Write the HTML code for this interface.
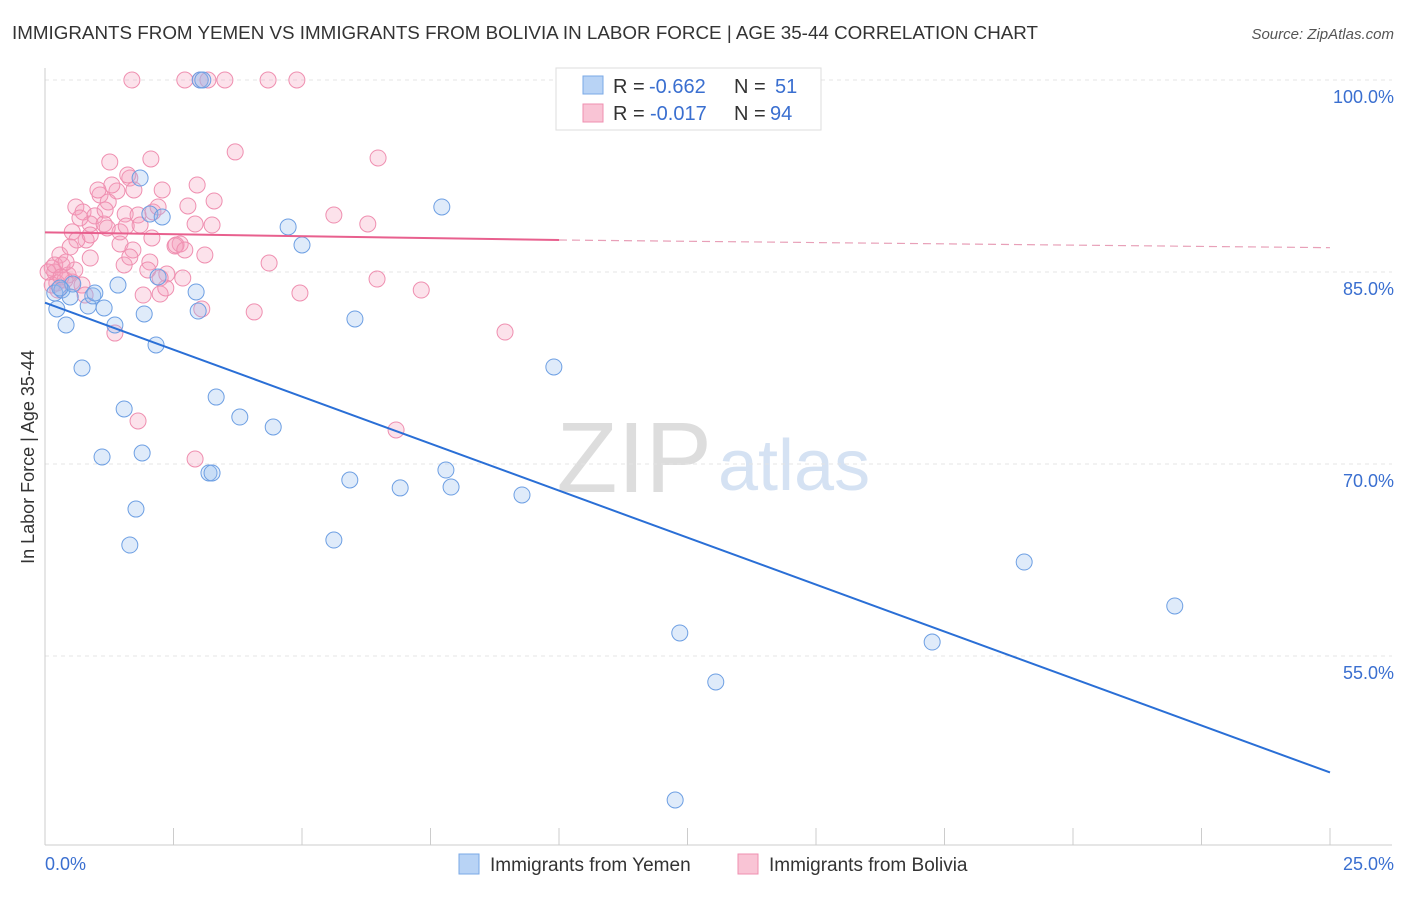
<!DOCTYPE html>
<html><head><meta charset="utf-8"><style>
body{margin:0;background:#fff;font-family:"Liberation Sans",sans-serif;}
svg text{font-family:"Liberation Sans",sans-serif;}
</style></head><body>
<svg width="1406" height="892" id="chart">
<text x="12" y="39" font-size="18" fill="#333" textLength="1026" lengthAdjust="spacingAndGlyphs">IMMIGRANTS FROM YEMEN VS IMMIGRANTS FROM BOLIVIA IN LABOR FORCE | AGE 35-44 CORRELATION CHART</text>
<text x="1394" y="39" font-size="15" fill="#555" font-style="italic" text-anchor="end">Source: ZipAtlas.com</text>
<text x="712" y="492" font-size="100" fill="#ddd" text-anchor="end" font-family="Liberation Serif">ZIP</text>
<text x="718" y="490" font-size="72" fill="#d5e2f3">atlas</text>
<g id="grid"></g><g id="axes"></g><g id="pts"></g><g id="trends"></g>
<text transform="translate(34,457) rotate(-90)" font-size="18" fill="#333" text-anchor="middle">In Labor Force | Age 35-44</text>
<text x="45" y="870" font-size="18" fill="#3a6fd0">0.0%</text>
<text x="1394" y="870" font-size="18" fill="#3a6fd0" text-anchor="end">25.0%</text>
<g>
<rect x="556" y="68" width="265" height="62" fill="#fff" stroke="#ddd"/>
<rect x="583" y="76" width="20" height="18" fill="#b8d3f5" stroke="#7aa8e6"/>
<rect x="583" y="104" width="20" height="18" fill="#f9c4d5" stroke="#ef8fb0"/>
<text x="613" y="93" font-size="20" fill="#333">R =</text>
<text x="649" y="93" font-size="20" fill="#3a6fd0">-0.662</text>
<text x="734" y="93" font-size="20" fill="#333">N =</text>
<text x="775" y="93" font-size="20" fill="#3a6fd0">51</text>
<text x="613" y="120" font-size="20" fill="#333">R =</text>
<text x="650" y="120" font-size="20" fill="#3a6fd0">-0.017</text>
<text x="734" y="120" font-size="20" fill="#333">N =</text>
<text x="770" y="120" font-size="20" fill="#3a6fd0">94</text>
</g>
<g>
<rect x="459" y="854" width="20" height="20" fill="#b8d3f5" stroke="#7aa8e6"/>
<text x="490" y="871" font-size="19" fill="#333">Immigrants from Yemen</text>
<rect x="738" y="854" width="20" height="20" fill="#f9c4d5" stroke="#ef8fb0"/>
<text x="769" y="871" font-size="19" fill="#333">Immigrants from Bolivia</text>
</g>
</svg>
<script>
const yTicks=[100,85,70,55];
const yTickLabels=["100.0%","85.0%","70.0%","55.0%"];
const xTicks=[0,2.5,5,7.5,10,12.5,15,17.5,20,22.5,25];
const yemenPx=[[55,293],[57,309],[62,290],[66,325],[70,297],[73,284],[82,368],[88,306],[93,296],[95,293],[102,457],[104,308],[115,325],[118,285],[124,409],[130,545],[136,509],[140,178],[142,453],[144,314],[150,214],[156,345],[158,277],[162,217],[196,292],[198,311],[200,80],[209,473],[212,473],[216,397],[240,417],[273,427],[288,227],[302,245],[334,540],[350,480],[355,319],[400,488],[442,207],[446,470],[451,487],[522,495],[554,367],[675,800],[680,633],[716,682],[932,642],[1024,562],[1175,606],[203,80],[60,288]];
const boliviaPx=[[132,80],[185,80],[200,80],[208,80],[225,80],[268,80],[297,80],[235,152],[151,159],[110,162],[378,158],[130,178],[197,185],[134,190],[117,191],[162,190],[214,201],[100,195],[108,202],[76,207],[83,212],[95,216],[125,214],[138,215],[153,212],[158,207],[188,206],[334,215],[368,224],[90,224],[104,224],[72,232],[120,232],[195,224],[86,240],[120,244],[152,238],[180,244],[175,246],[133,250],[77,240],[60,255],[62,265],[52,268],[55,272],[68,275],[72,282],[57,283],[65,280],[124,265],[130,257],[150,262],[205,255],[269,263],[167,274],[183,278],[160,294],[143,295],[166,288],[377,279],[300,293],[421,290],[202,309],[254,312],[115,333],[505,332],[138,421],[396,430],[195,459],[52,285],[48,272],[55,265],[82,285],[90,258],[107,228],[112,185],[140,225],[58,290],[75,270],[98,190],[128,175],[148,270],[176,245],[185,250],[212,225],[90,235],[66,262],[80,218],[126,226],[160,278],[105,210],[61,277],[70,247],[85,295]];
const yemenX=yemenPx.map(p=>+((p[0]-45)/51.4).toFixed(2));
const yemenY=yemenPx.map(p=>+(100-(p[1]-80)/12.8).toFixed(2));
const boliviaX=boliviaPx.map(p=>+((p[0]-45)/51.4).toFixed(2));
const boliviaY=boliviaPx.map(p=>+(100-(p[1]-80)/12.8).toFixed(2));
const yemenTrend=[[0,82.6],[25,45.9]];
const boliviaTrend=[[0,88.1],[10,87.5],[25,86.9]];
const X=v=>45+v*51.4, Y=v=>80+(100-v)*12.8;
const NS="http://www.w3.org/2000/svg";
function mk(t,a,p){const e=document.createElementNS(NS,t);for(const k in a)e.setAttribute(k,a[k]);p.appendChild(e);return e;}
const grid=document.getElementById('grid'),axes=document.getElementById('axes'),pts=document.getElementById('pts'),tr=document.getElementById('trends');
yTicks.forEach((v,i)=>{const l=mk('line',{x1:45,x2:1392,y1:Y(v),y2:Y(v),stroke:'#e4e4e4','stroke-dasharray':'4,4'},grid);


const t=mk('text',{x:1394,y:Y(v)+23,'font-size':18,fill:'#3a6fd0','text-anchor':'end'},grid);t.textContent=yTickLabels[i];

});
const ax=mk('line',{x1:45,x2:1392,y1:845,y2:845,stroke:'#ccc'},axes);


const ay=mk('line',{x1:45,x2:45,y1:68,y2:845,stroke:'#ccc'},axes);


xTicks.forEach(v=>{const t=mk('line',{x1:X(v),x2:X(v),y1:828,y2:845,stroke:'#ccc'},axes);

});
boliviaX.forEach((x,i)=>{const c=mk('circle',{cx:X(x),cy:Y(boliviaY[i]),r:8,fill:'rgba(245,160,190,0.3)',stroke:'#ef8fb0','stroke-width':1},pts);

});
yemenX.forEach((x,i)=>{const c=mk('circle',{cx:X(x),cy:Y(yemenY[i]),r:8,fill:'rgba(150,190,240,0.3)',stroke:'#6d9fe3','stroke-width':1},pts);

});
const bl=mk('line',{x1:X(yemenTrend[0][0]),y1:Y(yemenTrend[0][1]),x2:X(yemenTrend[1][0]),y2:Y(yemenTrend[1][1]),stroke:'#2a6fd6','stroke-width':2},tr);


const p1=mk('line',{x1:X(boliviaTrend[0][0]),y1:Y(boliviaTrend[0][1]),x2:X(boliviaTrend[1][0]),y2:Y(boliviaTrend[1][1]),stroke:'#e8608e','stroke-width':2},tr);


const p2=mk('line',{x1:X(boliviaTrend[1][0]),y1:Y(boliviaTrend[1][1]),x2:X(boliviaTrend[2][0]),y2:Y(boliviaTrend[2][1]),stroke:'#e8a0b8','stroke-width':1.2,'stroke-dasharray':'8,5'},tr);


</script>
</body></html>
